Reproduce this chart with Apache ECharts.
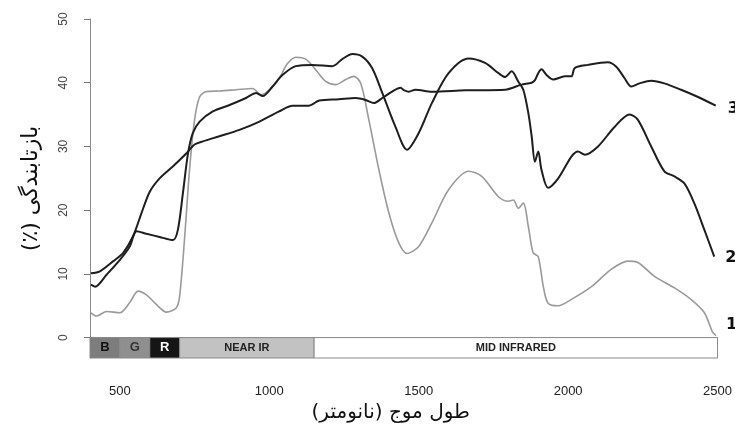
<!DOCTYPE html>
<html>
<head>
<meta charset="utf-8">
<script src="https://cdn.jsdelivr.net/npm/echarts@6/dist/echarts.min.js"></script>
<style>html,body{margin:0;padding:0;background:#fff}#c{width:735px;height:428px}</style>
</head>
<body>
<div id="c"></div>
<script>
// Curve 1 (light gray)
const wl1 = [403,422,456,500,533,561,589,622,656,689,700,717,733,750,767,789,833,889,944,972,1000,1033,1061,1089,1122,1156,1189,1222,1256,1283,1306,1333,1367,1400,1433,1461,1500,1544,1600,1667,1711,1767,1800,1817,1833,1850,1867,1883,1900,1917,1933,1967,2011,2078,2144,2200,2233,2289,2356,2411,2456,2483,2495];
const r1  = [3.9,3.4,4.1,3.9,5.5,7.3,6.7,5.2,4.0,4.7,6.5,15.9,26.3,34.2,37.8,38.6,38.7,38.9,39.1,38.1,38.9,40.7,43.0,44.0,43.7,42.0,40.2,39.7,40.5,41.0,39.9,34.2,26.3,19.6,14.9,13.2,14.3,18.0,23.2,26.1,25.3,22.1,21.4,21.6,20.3,21.1,17.4,13.3,12.7,8.0,5.4,5.0,6.0,8.0,10.7,12.0,11.8,9.6,7.8,6.0,3.9,0.9,0.3];
// Curve 2 (dark)
const wl2 = [403,417,456,500,533,556,589,633,678,694,711,728,744,767,811,867,922,956,978,1011,1044,1089,1144,1211,1244,1278,1311,1344,1378,1422,1461,1500,1544,1600,1667,1722,1767,1789,1811,1833,1850,1867,1878,1889,1900,1911,1933,1967,2011,2033,2056,2100,2156,2206,2233,2278,2322,2356,2389,2422,2456,2489];
const r2  = [8.3,8.0,9.9,12.2,14.3,16.7,16.3,15.8,15.3,16.9,22.7,28.9,32.1,33.9,35.5,36.5,37.6,38.4,37.9,39.4,41.2,42.6,42.8,42.6,43.7,44.5,44.1,42.3,38.4,33.1,29.5,32.1,36.8,41.5,43.8,43.1,41.5,40.9,41.8,40.2,38.9,35.2,31.6,27.6,29.2,26.3,23.5,25.0,28.4,29.2,28.7,30.0,33.1,35.0,34.2,30.0,26.1,25.3,24.2,21.1,16.9,12.7];
// Curve 3 (dark, smooth)
const wl3 = [403,433,478,511,544,572,600,633,678,722,750,778,833,900,967,1033,1078,1133,1167,1233,1289,1322,1350,1378,1411,1439,1452,1467,1489,1544,1656,1789,1844,1878,1889,1900,1911,1928,1950,1989,2011,2022,2067,2133,2161,2189,2211,2239,2278,2322,2378,2433,2494];
const r3  = [10.1,10.4,12.0,13.3,15.9,19.5,22.9,25.0,26.9,28.9,30.3,30.8,31.6,32.6,33.9,35.5,36.4,36.4,37.2,37.4,37.6,37.3,36.8,37.6,38.6,39.2,38.8,38.6,38.9,38.6,38.8,38.9,39.7,40.0,40.4,41.5,42.1,41.2,40.5,41.0,41.0,42.3,42.8,43.2,42.5,40.7,39.4,39.9,40.3,39.9,38.9,37.8,36.4];
// Spectral band strip
const bandNames = ['B','G','R','NEAR IR','MID INFRARED'];
const bandStart = [400,500,600,700,1150];
const bandEnd   = [500,600,700,1150,2500];
// Tick labels
const xTicks = [500,1000,1500,2000,2500];
const yTicks = [0,10,20,30,40,50];

const zip = (a,b) => a.map((v,i) => [v,b[i]]);
const bandFill  = ['#7d7d7d','#8f8f8f','#151515','#c2c2c2','#ffffff'];
const bandText  = ['#111','#333','#fff','#222','#222'];
const bandFont  = [13,13,13,11,11];

const strip = bandNames.map((n,i) => [
  {name:n, xAxis:bandStart[i], yAxis:-3.2,
   itemStyle:{color:bandFill[i], borderColor:'#8a8a8a', borderWidth:1},
   label:{show:true, position:'inside', color:bandText[i], fontSize:bandFont[i], fontWeight:'bold', fontFamily:'Liberation Sans, Arial'}},
  {xAxis:bandEnd[i], yAxis:0}
]);

const chart = echarts.init(document.getElementById('c'));
const endLbl = (t, off) => ({show:true, formatter:t, offset:off, fontSize:16, fontWeight:'bold', color:'#111', fontFamily:'DejaVu Sans'});
chart.setOption({
  animation:false,
  grid:{left:90, right:15, top:19, bottom:70},
  xAxis:{
    type:'value', min:400, max:2500,
    axisLine:{show:true, lineStyle:{color:'#8a8a8a'}},
    axisTick:{show:true, customValues:xTicks, length:7, lineStyle:{color:'#555'}},
    axisLabel:{customValues:xTicks, margin:27, fontSize:13, color:'#222', fontFamily:'Liberation Sans, Arial', formatter: v => String(v)},
    splitLine:{show:false},
    name:'طول موج (نانومتر)', nameLocation:'middle', nameGap:44,
    nameTextStyle:{fontSize:20, color:'#111', fontFamily:'DejaVu Sans', padding:[0,26,0,0]}
  },
  yAxis:{
    type:'value', min:-3.2, max:50,
    axisLine:{show:true, lineStyle:{color:'#8a8a8a'}},
    axisTick:{show:true, customValues:yTicks, length:6, lineStyle:{color:'#777'}},
    axisLabel:{customValues:yTicks, rotate:90, margin:20, fontSize:12, color:'#444', fontFamily:'Liberation Sans, Arial'},
    splitLine:{show:false},
    name:'\u202Bبازتابندگی (٪)\u202C', nameLocation:'middle', nameGap:48, nameRotate:90,
    nameTextStyle:{fontSize:22, color:'#111', fontFamily:'DejaVu Sans'}
  },
  series:[
    {type:'line', data:zip(wl1,r1), showSymbol:false, smooth:0.3,
     lineStyle:{color:'#9a9a9a', width:1.6}, endLabel:endLbl('1',[2,-11]),
     markArea:{silent:true, data:strip}},
    {type:'line', data:zip(wl2,r2), showSymbol:false, smooth:0.3,
     lineStyle:{color:'#1e1e1e', width:2}, endLabel:endLbl('2',[3,1])},
    {type:'line', data:zip(wl3,r3), showSymbol:false, smooth:0.3,
     lineStyle:{color:'#1e1e1e', width:2}, endLabel:endLbl('3',[4,3])}
  ]
});
</script>
</body>
</html>
